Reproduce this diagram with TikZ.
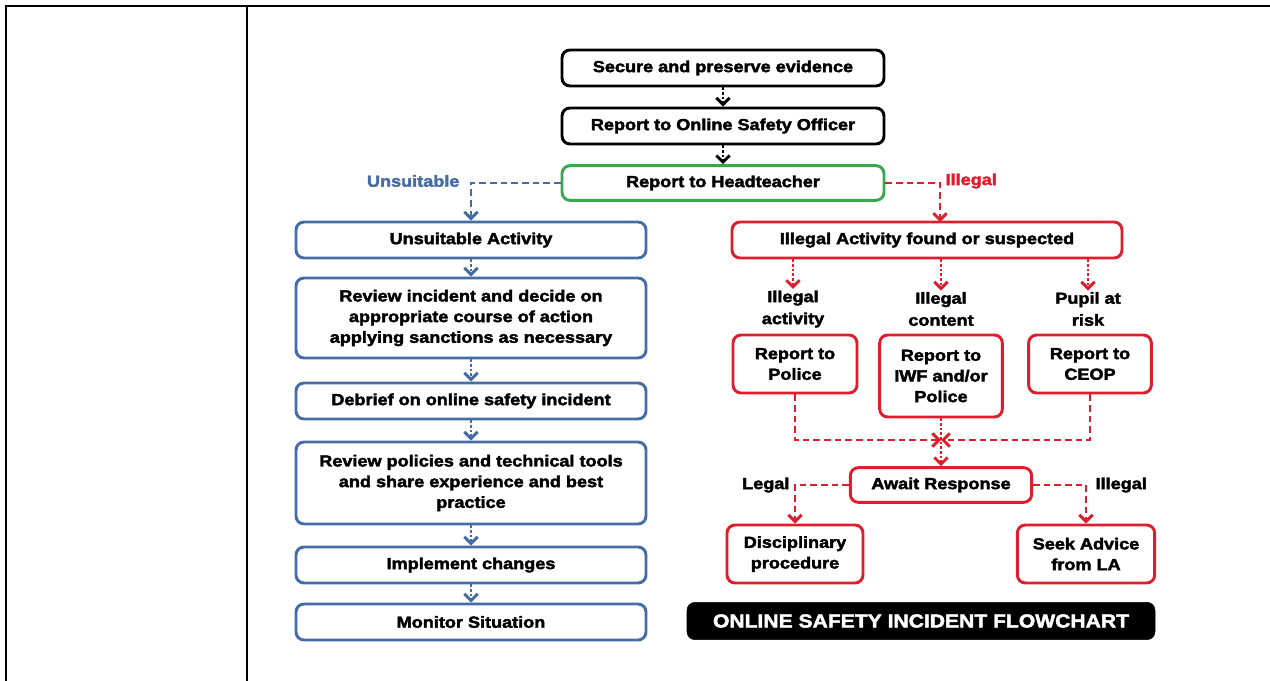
\documentclass[tikz,border=0pt]{standalone}
\usepackage{fontspec}
\setmainfont{Liberation Sans}[FakeStretch=1.13, BoldFeatures={FakeBold=2.5}]
\usetikzlibrary{arrows.meta}
\definecolor{bl}{RGB}{70,108,165}
\definecolor{rd}{RGB}{222,30,45}
\definecolor{gr}{RGB}{60,165,80}
\begin{document}
\begin{tikzpicture}[x=0.75pt,y=-0.75pt,
  box/.style={draw, line width=2.2pt, rounded corners=6pt, fill=white, align=center,
    font=\bfseries\fontsize{12}{15.5}\selectfont, inner sep=2pt},
  lab/.style={align=center, font=\bfseries\fontsize{12}{16.5}\selectfont, inner sep=1pt},
  tip/.style={-{Straight Barb[length=5pt,width=10pt,line width=2.2pt]}},
  dotc/.style={tip, line width=2.2pt, dash pattern=on 2pt off 1.5pt},
  dashc/.style={tip, line width=2.2pt, dash pattern=on 5pt off 3pt},
  wide/.style={minimum width=241.5pt, minimum height=27pt},
  col/.style={minimum width=262.5pt},
  small/.style={minimum height=27pt}
]
\useasboundingbox (0,0) rectangle (1270,681);
% table lines
\draw[line width=2pt] (6,681) -- (6,6) -- (1270,6);
\draw[line width=2pt] (247,6) -- (247,681);

% top chain
\node[box, wide] (sec) at (723,68) {Secure and preserve evidence};
\node[box, wide] (oso) at (723,126) {Report to Online Safety Officer};
\node[box, wide, draw=gr, minimum height=26pt] (ht) at (723,183) {Report to Headteacher};

% left column
\node[box, col, small, draw=bl] (ua) at (471,240) {Unsuitable Activity};
\node[box, col, draw=bl, minimum height=60pt] (rev) at (471,318) {Review incident and decide on\\appropriate course of action\\applying sanctions as necessary};
\node[box, col, small, draw=bl] (deb) at (471,401) {Debrief on online safety incident};
\node[box, col, draw=bl, minimum height=61.5pt] (pol2) at (471,483) {Review policies and technical tools\\and share experience and best\\practice};
\node[box, col, small, draw=bl] (imp) at (471,565) {Implement changes};
\node[box, col, small, draw=bl] (mon) at (471,622) {Monitor Situation};

% right side
\node[box, draw=rd, minimum width=292.5pt, minimum height=27pt] (ia) at (927,240) {Illegal Activity found or suspected};
\node[lab] (l1) at (793,309) {Illegal\\activity};
\node[lab] (l2) at (941,309) {Illegal\\content};
\node[lab] (l3) at (1088,309) {Pupil at\\risk};
\node[box, draw=rd, minimum width=93pt, minimum height=43.5pt] (pol) at (795,364) {Report to\\Police};
\node[box, draw=rd, minimum width=92pt, minimum height=61.5pt] (iwf) at (941,376) {Report to\\IWF and/or\\Police};
\node[box, draw=rd, minimum width=92pt, minimum height=43.5pt] (ceop) at (1090,364) {Report to\\CEOP};
\node[box, draw=rd, minimum width=136pt, minimum height=26pt] (aw) at (941,485) {Await Response};
\node[box, draw=rd, minimum width=102pt, minimum height=43.5pt] (dis) at (795,554) {Disciplinary\\procedure};
\node[box, draw=rd, minimum width=103pt, minimum height=43.5pt] (seek) at (1086,554) {Seek Advice\\from LA};
\node[draw=black, fill=black, rounded corners=6pt, minimum width=351pt, minimum height=28pt,
  text=white, font=\bfseries\fontsize{14}{16}\selectfont] (title) at (921,621) {ONLINE SAFETY INCIDENT FLOWCHART};

% labels on branches
\node[lab, text=bl, anchor=east] (lu) at (461,181) {Unsuitable};
\node[lab, text=rd, anchor=west] (li) at (944,181) {Illegal};
\node[lab, anchor=east] (lleg) at (791,485) {Legal};
\node[lab, anchor=west] (lill) at (1094,485) {Illegal};

% connectors
\draw[dotc] (sec) -- (oso);
\draw[dotc] (oso) -- (ht);
\draw[dashc, draw=bl] (ht.west) -| (ua.north);
\coordinate (iaIn) at (940,222);
\draw[dashc, draw=rd] (ht.east) -| (iaIn);
\foreach \a/\b in {ua/rev, rev/deb, deb/pol2, pol2/imp, imp/mon}
  \draw[dotc, draw=bl] (\a) -- (\b);
\draw[dotc, draw=rd] (ia.south -| l1) -- (l1.north);
\draw[dotc, draw=rd] (ia.south -| l2) -- (l2.north);
\draw[dotc, draw=rd] (ia.south -| l3) -- (l3.north);
\coordinate (mg) at (941,440);
\draw[dashc, draw=rd] (pol.south) |- (mg);
\draw[dashc, draw=rd] (ceop.south) |- (mg);
\draw[dotc, draw=rd] (iwf.south) -- (aw.north);
\draw[dashc, draw=rd] (aw.west) -| (dis.north);
\draw[dashc, draw=rd] (aw.east) -| (seek.north);
\end{tikzpicture}
\end{document}
